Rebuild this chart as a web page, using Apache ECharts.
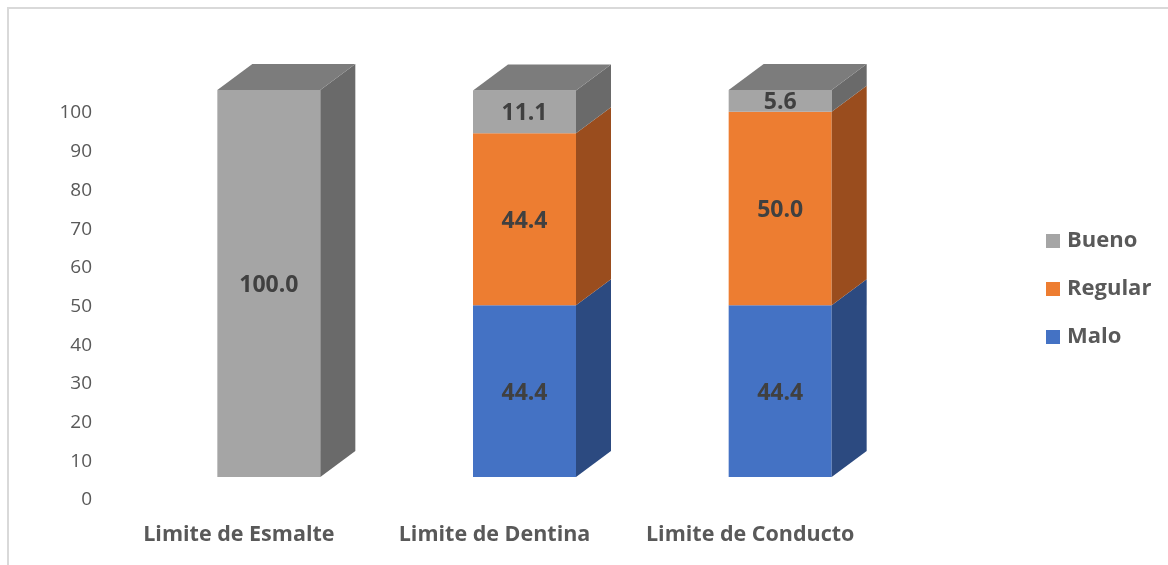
<!DOCTYPE html>
<html>
<head>
<meta charset="utf-8">
<script src="https://cdn.jsdelivr.net/npm/echarts@6/dist/echarts.min.js"></script>
<style>
  html, body { margin: 0; padding: 0; background: #ffffff; }
  #frame { position: absolute; left: 7px; top: 7px; width: 1168px; height: 565px;
           border-left: 2px solid #d9d9d9; border-top: 2px solid #d9d9d9; box-sizing: border-box; }
  #chart { position: absolute; left: 0; top: 0; width: 1168px; height: 565px; }
</style>
</head>
<body>
<div id="frame"></div>
<div id="chart"></div>
<script>
// Categories and percentage values per rating
const categories = ['Limite de Esmalte', 'Limite de Dentina', 'Limite de Conducto'];
const malo = [0, 44.4, 44.4];
const regular = [0, 44.4, 50.0];
const bueno = [100.0, 11.1, 5.6];
const yTicks = { min: 0, max: 100, interval: 10 };

// Stack order bottom to top
const stack = [
  { name: 'Malo',    values: malo,    front: '#4472C4', side: '#2C4A80', top: '#36599A' },
  { name: 'Regular', values: regular, front: '#ED7D31', side: '#9A4D1E', top: '#B85F24' },
  { name: 'Bueno',   values: bueno,   front: '#A5A5A5', side: '#6A6A6A', top: '#7C7C7C' }
];

// Find the top non-empty segment for each category
const topIndex = categories.map((c, i) => {
  let t = -1;
  stack.forEach((s, k) => { if (s.values[i] > 0) t = k; });
  return t;
});

// Pseudo-3D column geometry (pixels)
const FRONT_SHIFT_X = 30, FRONT_SHIFT_Y = -21, HALF_W = 51.5, DEPTH_X = 35, DEPTH_Y = -26;

function makeRender(s, k) {
  return function (params, api) {
    const i = api.value(0), base = api.value(1), top = api.value(2), val = api.value(3);
    if (val <= 0) return null;
    const pb = api.coord([i, base]);
    const pt = api.coord([i, top]);
    const cx = pb[0] + FRONT_SHIFT_X;
    const x0 = cx - HALF_W, x1 = cx + HALF_W;
    const yb = pb[1] + FRONT_SHIFT_Y, yt = pt[1] + FRONT_SHIFT_Y;
    const children = [
      { type: 'rect', shape: { x: x0, y: yt, width: x1 - x0, height: yb - yt },
        style: { fill: s.front } },
      { type: 'polygon', shape: { points: [[x1, yt], [x1 + DEPTH_X, yt + DEPTH_Y], [x1 + DEPTH_X, yb + DEPTH_Y], [x1, yb]] },
        style: { fill: s.side } }
    ];
    if (topIndex[i] === k) {
      children.push({ type: 'polygon',
        shape: { points: [[x0, yt], [x0 + DEPTH_X, yt + DEPTH_Y], [x1 + DEPTH_X, yt + DEPTH_Y], [x1, yt]] },
        style: { fill: s.top } });
    }
    children.push({ type: 'text', style: {
      x: cx, y: (yt + yb) / 2 + 2, text: val.toFixed(1), align: 'center', verticalAlign: 'middle',
      fill: '#404040', font: 'bold 23px "Open Sans", sans-serif' } });
    return { type: 'group', children: children };
  };
}

const series = stack.map((s, k) => {
  const data = categories.map((c, i) => {
    let base = 0;
    for (let j = 0; j < k; j++) base += stack[j].values[i];
    return [i, base, base + s.values[i], s.values[i]];
  });
  return {
    name: s.name, type: 'custom', clip: false,
    itemStyle: { color: s.front },
    encode: { x: 0, y: [1, 2] },
    renderItem: makeRender(s, k),
    data: data
  };
});

const chart = echarts.init(document.getElementById('chart'), null, { renderer: 'canvas' });
chart.setOption({
  animation: false,
  backgroundColor: 'transparent',
  textStyle: { fontFamily: '"Open Sans", sans-serif' },
  grid: { left: 111, top: 111, width: 767, height: 387 },
  xAxis: {
    type: 'category', data: categories,
    axisLine: { show: false }, axisTick: { show: false }, splitLine: { show: false },
    axisLabel: { color: '#595959', fontSize: 21.5, fontWeight: 'bold', margin: 26, interval: 0 }
  },
  yAxis: {
    type: 'value', min: yTicks.min, max: yTicks.max, interval: yTicks.interval,
    axisLine: { show: false }, axisTick: { show: false }, splitLine: { show: false },
    axisLabel: {
      margin: 19, formatter: '{t|{value}}',
      rich: { t: { color: '#595959', fontSize: 19, padding: [4, 0, 0, 0] } }
    }
  },
  legend: {
    orient: 'vertical', left: 1046, top: 230, padding: 0,
    data: ['Bueno', 'Regular', 'Malo'],
    icon: 'rect', itemWidth: 14, itemHeight: 14, itemGap: 26,
    textStyle: { color: '#595959', fontSize: 22, fontWeight: 'bold', padding: [0, 0, 0, 2] }
  },
  series: series
});
</script>
</body>
</html>
